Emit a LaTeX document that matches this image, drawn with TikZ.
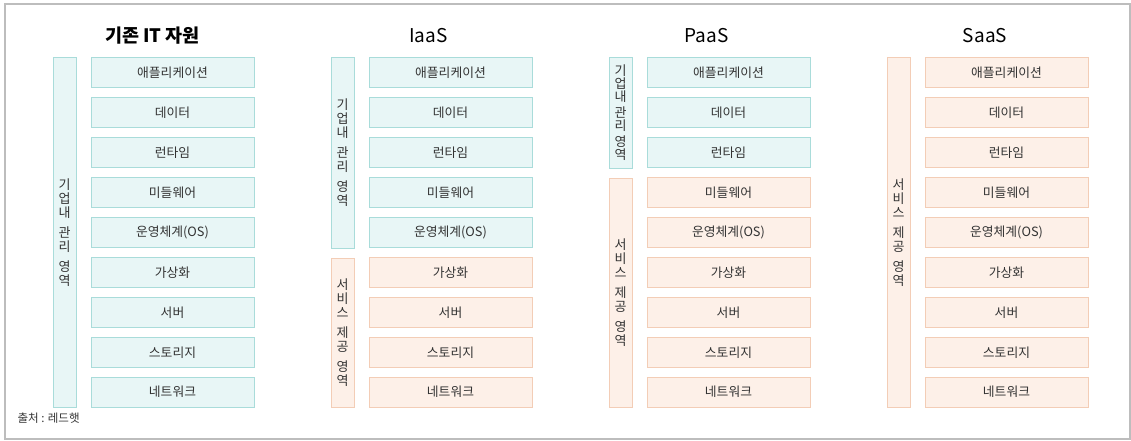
\documentclass[tikz,border=0pt]{standalone}
\usepackage{fontspec}
\setmainfont{Noto Sans CJK KR}
\usetikzlibrary{positioning}

\definecolor{ownfill}{HTML}{E8F6F6}
\definecolor{ownline}{HTML}{A9DCDA}
\definecolor{svcfill}{HTML}{FDF0E8}
\definecolor{svcline}{HTML}{F3CDB6}
\definecolor{txtgray}{HTML}{333333}
\definecolor{framegray}{HTML}{BDBDBD}

\tikzset{
	layer/.style={rectangle, line width=1pt, minimum width=163pt, minimum height=30pt, inner sep=0pt,
		font=\fontsize{12.8}{14}\selectfont, text=txtgray},
	side/.style={rectangle, line width=1pt, minimum width=23pt, inner sep=0pt, align=center,
		font=\fontsize{13}{14}\selectfont, text=txtgray},
	own/.style={side, fill=ownfill, draw=ownline},
	svc/.style={side, fill=svcfill, draw=svcline},
	title/.style={font=\fontsize{19}{21}\selectfont, text=black}
}

\begin{document}
\begin{tikzpicture}[x=1pt, y=-1pt]
		\useasboundingbox (0,0) rectangle (1131,441);
		\draw[framegray, line width=1.5pt] (5,4) rectangle (1130,439);

		% titles
		\node[title, font=\fontsize{18.5}{21}\selectfont\bfseries] (tit) at (152.5,36) {기존 IT 자원};
		\node[title] (tiaas) at (428.5,36) {IaaS};
		\node[title] (tpaas) at (706.5,36) {PaaS};
		\node[title] (tsaas) at (985,36) {SaaS};

		% layer stacks
		\foreach \col/\x/\k in {it/172.5/9, iaas/450.5/5, paas/728.5/3, saas/1006.5/0} {
			\foreach \lbl [count=\i] in {애플리케이션,데이터,런타임,미들웨어,운영체계(OS),가상화,서버,스토리지,네트워크} {
				\ifnum\i>\k \def\kind{svc}\else\def\kind{own}\fi
				\node[layer, fill=\kind fill, draw=\kind line] (\col\i) at (\x,33.1+39.9*\i) {\lbl};
			}
		}

		% side bars
		\node[own, minimum height=349pt] (itown) at (64.5,232.5) {기\\업\\내\\[6pt]관\\리\\[6pt]영\\역};
		\node[own, minimum height=190pt] (iaasown) at (342.5,153) {기\\업\\내\\[6pt]관\\리\\[6pt]영\\역};
		\node[svc, minimum height=149pt] (iaassvc) at (342.5,332.5) {서\\비\\스\\[6pt]제\\공\\[6pt]영\\역};
		\node[own, minimum height=110pt, font=\fontsize{13}{13}\selectfont] (paasown) at (620.5,113) {기\\업\\내\\[3pt]관\\리\\[3pt]영\\역};
		\node[svc, minimum height=229pt] (paassvc) at (620.5,292.5) {서\\비\\스\\[6pt]제\\공\\[6pt]영\\역};
		\node[svc, minimum height=349pt] (saassvc) at (898.5,232.5) {서\\비\\스\\[6pt]제\\공\\[6pt]영\\역};

		\node[anchor=west, font=\fontsize{11.5}{13}\selectfont, text=txtgray] (src) at (14,418) {출처 : 레드햇};
	\end{tikzpicture}
\end{document}
